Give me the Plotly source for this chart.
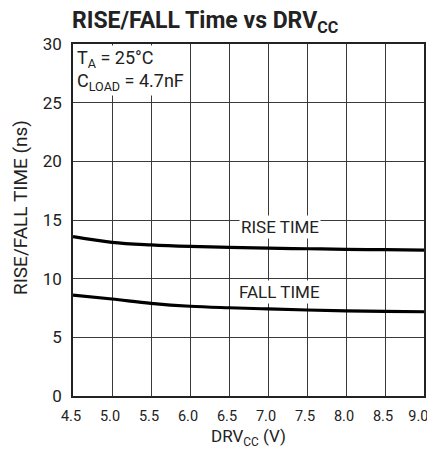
import plotly.graph_objects as go

drv = [4.5, 5.0, 5.5, 6.0, 6.5, 7.0, 7.5, 8.0, 8.5, 9.0]
rise = [13.58, 13.1, 12.88, 12.75, 12.67, 12.6, 12.55, 12.5, 12.47, 12.43]
fall = [8.6, 8.27, 7.9, 7.65, 7.52, 7.42, 7.33, 7.26, 7.21, 7.18]
xticks = [4.5, 5.0, 5.5, 6.0, 6.5, 7.0, 7.5, 8.0, 8.5, 9.0]
xticklabels = ["4.5", "5.0", "5.5", "6.0", "6.5", "7.0", "7.5", "8.0", "8.5", "9.0\u00a0\u00a0"]
yticks = [0, 5, 10, 15, 20, 25, 30]

FONT = "Roboto, Liberation Sans, sans-serif"
TXT = "#222222"

# the page body has an 8px margin; size the figure so the page does not overflow
W, H = 419, 442

fig = go.Figure()
fig.add_trace(go.Scatter(x=drv, y=rise, mode="lines", line=dict(color="black", width=3.2, shape="spline"), showlegend=False))
fig.add_trace(go.Scatter(x=drv, y=fall, mode="lines", line=dict(color="black", width=3.2, shape="spline"), showlegend=False))

fig.update_layout(
    width=W, height=H,
    margin=dict(l=65, r=3, t=36, b=54),
    paper_bgcolor="white", plot_bgcolor="white",
    font=dict(family=FONT, color=TXT, size=15),
    title=dict(text="<b>RISE/FALL Time vs DRV<sub>CC</sub></b>", x=64/W, xanchor="left",
               y=1 - 20/H, yanchor="bottom", font=dict(size=23, color=TXT, family=FONT)),
    xaxis=dict(range=[4.5, 9.0], tickvals=xticks, ticktext=xticklabels, showgrid=True,
               gridcolor="#3a3a3a", gridwidth=1, showline=True, linecolor="#222222", linewidth=1.5,
               mirror=True, ticks="", zeroline=False, ticklabelstandoff=6, ticklabelshift=-2,
               ticklabeloverflow="allow", automargin=False, tickfont=dict(size=14.5)),
    yaxis=dict(range=[0, 30], tickvals=yticks, showgrid=True, gridcolor="#3a3a3a", gridwidth=1,
               showline=True, linecolor="#222222", linewidth=1.5, mirror=True, ticks="",
               zeroline=False, ticklabelstandoff=6, automargin=False,
               tickfont=dict(size=17)),
)

# axis titles
fig.add_annotation(x=0.5, y=0, xref="paper", yref="paper", yanchor="middle", yshift=-41,
                   text="DRV<sub>CC</sub> (V)", showarrow=False,
                   font=dict(size=17, color=TXT))
fig.add_annotation(x=0, y=0.534, xref="paper", yref="paper", xanchor="center", yanchor="middle",
                   xshift=-53, text="RISE/FALL TIME (ns)", textangle=-90, showarrow=False,
                   font=dict(size=19, color=TXT))

fig.add_annotation(x=4.5, y=30, xref="x", yref="y", xanchor="left", yanchor="top",
                   text="T<sub>A</sub> = 25°C<br>C<sub>LOAD</sub> = 4.7nF", showarrow=False,
                   align="left", bgcolor="white", font=dict(size=18, color=TXT),
                   xshift=2, yshift=-1, borderpad=1)
fig.add_annotation(x=7.15, y=14.4, text="RISE TIME", showarrow=False, bgcolor="white",
                   font=dict(size=17, color=TXT), borderpad=1)
fig.add_annotation(x=7.15, y=8.9, text="FALL TIME", showarrow=False, bgcolor="white",
                   font=dict(size=17, color=TXT), borderpad=1)

fig.write_html("out.html")
